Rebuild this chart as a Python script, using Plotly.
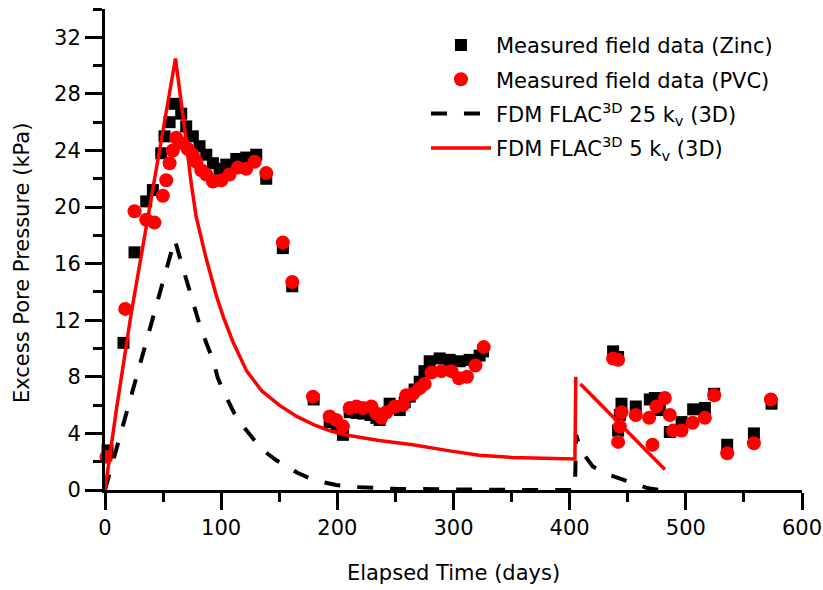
import plotly.graph_objects as go

# ---- data ----
zinc_x = [2.2, 15.9, 25.4, 35.5, 41.2, 48.4, 51.2, 55.6, 59.9, 65.6, 69.9, 75.6, 81.4, 87.2, 92.9,
          98.6, 104.4, 113, 121.6, 130.2, 138.8, 153.1, 161.2, 179.6, 193.4, 199.4, 204.8, 210.6,
          216.6, 222.6, 228.7, 233.6, 236.4, 245, 248.5, 253.7, 258, 262.3, 266.5, 270.9, 275,
          279.5, 288.1, 296.7, 305.3, 313.9, 322.5, 325.4, 437.4, 441.7, 444.6, 443.2, 441.7,
          456.9, 469, 473.3, 477.6, 486.2, 496.3, 506.3, 516.4, 524.4, 535.6, 558.6, 573.8]
zinc_y = [2.8, 10.4, 16.8, 20.4, 21.2, 23.8, 25.0, 26.0, 27.3, 26.6, 25.7, 25.0, 24.3, 23.7, 23.1,
          22.7, 23.0, 23.4, 23.5, 23.7, 22.0, 17.1, 14.4, 6.4, 4.8, 4.6, 3.9, 5.5,
          5.45, 5.4, 5.3, 5.1, 4.95, 6.1, 5.8, 5.65, 6.2, 6.6, 7.1, 7.65, 8.4,
          9.1, 9.3, 9.2, 9.1, 9.2, 9.5, 9.8, 9.8, 9.4, 6.1, 5.3, 4.2,
          5.9, 6.4, 6.5, 5.65, 4.1, 4.8, 5.7, 5.8, 6.8, 3.2, 4.0, 6.1]

pvc_x = [1.3, 17.4, 25.4, 35.5, 42.6, 49.8, 52.7, 55.6, 58.4, 61.3, 67, 71.3, 75.6, 78.6, 82.9,
         87.2, 92.9, 100.1, 107.2, 114.4, 121.6, 128.8, 138.8, 153.1, 161.2, 179, 193.4, 199.1,
         204.8, 210.6, 216.4, 222, 229.3, 233.6, 237.9, 242.2, 249.4, 256.5, 259.4, 265.1, 270.9,
         275.2, 281, 289.6, 298.2, 304.7, 311.6, 318.9, 326, 437.4, 441.7, 444.6, 443.2, 441.7,
         456.9, 468.4, 471.3, 474.7, 481.9, 486.2, 489, 496.3, 505.8, 516.4, 524.4, 535.6, 558.6, 573.2]
pvc_y = [2.35, 12.8, 19.7, 19.1, 18.9, 20.8, 21.9, 23.1, 24.0, 24.9, 24.5, 24.1, 23.7, 23.2, 22.6,
         22.3, 21.8, 21.9, 22.3, 22.8, 22.7, 23.2, 22.4, 17.5, 14.7, 6.6, 5.2, 4.95,
         4.5, 5.8, 5.9, 5.8, 5.9, 5.4, 5.1, 5.5, 5.9, 6.0, 6.7, 6.8, 7.2,
         7.5, 8.3, 8.4, 8.4, 7.9, 8.0, 8.8, 10.1, 9.3, 9.2, 5.5, 4.5, 3.4,
         5.3, 5.1, 3.2, 5.9, 6.5, 5.3, 4.2, 4.2, 4.75, 5.1, 6.7, 2.6, 3.3, 6.4]

fdm25_x = [0, 60, 68.5, 72.8, 77, 81.4, 87.2, 92.9, 97.2, 102.9, 111.5, 120, 134.5, 147.5, 166,
           180, 199, 210, 250, 300, 350, 404.5, 405.6, 409.6, 420, 434.5, 452, 467.5, 478]
fdm25_y = [0, 17.7, 15.3, 14.1, 12.8, 11.7, 10.4, 9.2, 7.9, 6.8, 5.4, 4.4, 2.9, 2.1, 1.2,
           0.7, 0.35, 0.23, 0.08, 0.03, 0.01, 0.0, 3.9, 2.8, 1.65, 1.06, 0.6, 0.12, 0.0]

fdm5_x = [0, 10, 22.6, 42.6, 60.7, 70, 74, 78.5, 87, 96, 102, 110, 122, 135, 150, 165, 180, 195,
          210, 236, 265, 294, 322, 350, 380, 404.5, 405.3, None, 409.3, 445, 482]
fdm5_y = [0, 5.8, 12.5, 21.9, 30.5, 24.6, 21.8, 19.3, 16.4, 13.7, 12.2, 10.5, 8.4, 7.0, 6.0, 5.2, 4.6, 4.15,
          3.85, 3.5, 3.2, 2.8, 2.45, 2.3, 2.22, 2.2, 8.0, None, 7.5, 4.5, 1.45]

x_ticks = [0, 100, 200, 300, 400, 500, 600]
y_ticks = [0, 4, 8, 12, 16, 20, 24, 28, 32]

FONT = "DejaVu Sans"

fig = go.Figure()
fig.add_trace(go.Scatter(x=zinc_x, y=zinc_y, mode="markers", name="Measured field data (Zinc)",
                         marker=dict(symbol="square", size=12, color="black"),
                         legendgroup="a", cliponaxis=False))
fig.add_trace(go.Scatter(x=pvc_x, y=pvc_y, mode="markers", name="Measured field data (PVC)",
                         marker=dict(symbol="circle", size=14, color="#ff0000"),
                         legendgroup="b", cliponaxis=False))
fig.add_trace(go.Scatter(x=fdm25_x, y=fdm25_y, mode="lines",
                         name="FDM FLAC<sup>3D</sup> 25 k<sub>v</sub> (3D)",
                         line=dict(color="black", width=4, dash="16px,17px"),
                         legendgroup="c"))
fig.add_trace(go.Scatter(x=fdm5_x, y=fdm5_y, mode="lines",
                         name="FDM FLAC<sup>3D</sup> 5 k<sub>v</sub> (3D)",
                         line=dict(color="#ff0000", width=3.5), connectgaps=False,
                         legendgroup="d"))

axis_common = dict(showgrid=False, zeroline=False, showline=True, linecolor="black",
                   linewidth=3, tickcolor="black", tickwidth=3, ticklen=17, automargin=False,
                   tickfont=dict(family=FONT, size=21, color="black"))

fig.update_layout(
    width=823, height=590,
    margin=dict(l=105, r=21, t=9, b=100),
    plot_bgcolor="white", paper_bgcolor="white",
    font=dict(family=FONT, size=21, color="black"),
    showlegend=True,
    legend=dict(x=0.4605, y=0.967, xanchor="left", yanchor="top",
                bgcolor="rgba(0,0,0,0)", borderwidth=0, tracegroupgap=4,
                itemwidth=60, font=dict(family=FONT, size=21, color="black")),
    xaxis=dict(range=[0, 600], tickvals=x_ticks, ticks="outside",
               minor=dict(dtick=50, ticks="outside", ticklen=9, tickwidth=3, tickcolor="black"),
               title=dict(text="Elapsed Time (days)", font=dict(family=FONT, size=21), standoff=27),
               **axis_common),
    yaxis=dict(range=[0, 34], tickvals=y_ticks, ticks="outside",
               minor=dict(dtick=2, ticks="outside", ticklen=9, tickwidth=3, tickcolor="black"),
               **axis_common),
    xaxis2=dict(range=[0, 600], overlaying="x", side="top", anchor="y", tickvals=x_ticks,
                ticks="inside", showticklabels=False,
                minor=dict(dtick=50, ticks="inside", ticklen=9, tickwidth=3, tickcolor="black"),
                **axis_common),
    yaxis2=dict(range=[0, 34], overlaying="y", side="right", anchor="x", tickvals=y_ticks,
                ticks="inside", showticklabels=False,
                minor=dict(dtick=2, ticks="inside", ticklen=9, tickwidth=3, tickcolor="black"),
                **axis_common),
    annotations=[dict(text="Excess Pore Pressure (kPa)", xref="paper", yref="paper",
                      x=-0.119, y=0.472, xanchor="center", yanchor="middle", textangle=-90,
                      showarrow=False, font=dict(family=FONT, size=21, color="black"))],
)

# remove the default page margin so the 823x590 figure fills the window exactly
fig.write_html("out.html", config={"displayModeBar": False},
               post_script="document.body.style.margin='0px';document.body.style.overflow='hidden';")
